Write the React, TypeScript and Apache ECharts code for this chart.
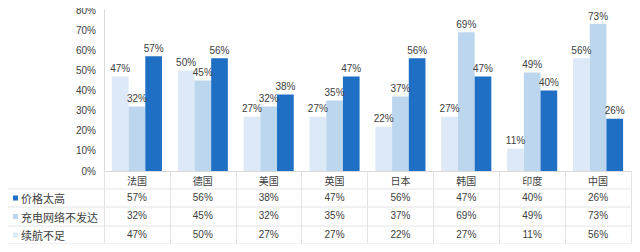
import React, { useEffect, useRef } from "react";
import * as echarts from "echarts";

const categories = ["法国", "德国", "美国", "英国", "日本", "韩国", "印度", "中国"];
const seriesNames = ["续航不足", "充电网络不发达", "价格太高"];
const rangeShort = [47, 50, 27, 27, 22, 27, 11, 56];
const chargingPoor = [32, 45, 32, 35, 37, 69, 49, 73];
const priceHigh = [57, 56, 38, 47, 56, 47, 40, 26];
const yTicks = [0, 10, 20, 30, 40, 50, 60, 70, 80];

const colors = ["#DDE9F6", "#BCD6EE", "#1F6FC5"];
const textColor = "#404040";
const lineColor = "#D9D9D9";
const cjk = "'Noto Sans CJK SC', sans-serif";
const latin = "'Liberation Sans', Arial, sans-serif";

export default function App() {
  const ref = useRef<HTMLDivElement>(null);
  useEffect(() => {
    if (!ref.current) return;
    const chart = echarts.init(ref.current, undefined, { renderer: "svg" });
    const gridLeft = 104;
    const gridRight = 9;
    const gridTop = 10;
    const gridBottom = 81;
    const axisY = 252 - gridBottom;
    const rowLines = [189, 207, 226, 244];
    const tableRows = [
      { name: "价格太高", data: priceHigh, color: colors[2] },
      { name: "充电网络不发达", data: chargingPoor, color: colors[1] },
      { name: "续航不足", data: rangeShort, color: colors[0] },
    ];
    const rowOffsets = [18, 36, 55];
    const valueAxes = tableRows.map((r, i) => ({
      type: "category" as const,
      data: r.data.map((v) => v + "%"),
      position: "bottom" as const,
      offset: rowOffsets[i],
      gridIndex: 0,
      axisLine: { show: false },
      axisTick: { show: false },
      axisLabel: { color: textColor, fontSize: 10, fontFamily: latin, margin: 3 },
    }));
    const graphics: any[] = [];
    rowLines.forEach((y) => {
      graphics.push({
        type: "line",
        shape: { x1: 5, y1: y, x2: 640 - gridRight, y2: y },
        style: { stroke: "#E4E4E4", lineWidth: 1 },
        silent: true,
      });
    });
    graphics.push({
      type: "line",
      shape: { x1: 5, y1: rowLines[0], x2: 5, y2: rowLines[3] },
      style: { stroke: "#E4E4E4", lineWidth: 1 },
    });
    tableRows.forEach((r, i) => {
      const cy = (rowLines[i] + rowLines[i + 1]) / 2;
      graphics.push({
        type: "rect",
        shape: { x: 13, y: cy - 2.5, width: 5, height: 5 },
        style: { fill: r.color },
      });
      graphics.push({
        type: "text",
        x: 21,
        y: cy,
        style: {
          text: r.name,
          fill: textColor,
          font: `11px ${cjk}`,
          verticalAlign: "middle",
          align: "left",
        },
      });
    });
    graphics.push({
      type: "line",
      shape: { x1: 0, y1: 1, x2: 637, y2: 1 },
      style: { stroke: "#5A5A5A", lineWidth: 1.5 },
    });
    graphics.push({
      type: "rect",
      shape: { x: 0, y: 248, width: 640, height: 4 },
      style: { fill: "#6A6A6A" },
    });

    chart.setOption({
      animation: false,
      grid: { left: gridLeft, right: gridRight, top: gridTop, bottom: gridBottom },
      xAxis: [
        {
          type: "category",
          data: categories,
          position: "bottom",
          axisLine: { show: true, lineStyle: { color: lineColor } },
          axisTick: { show: true, length: 244 - axisY, lineStyle: { color: "#E4E4E4" } },
          axisLabel: { color: textColor, fontSize: 10, fontFamily: cjk, margin: 4 },
        },
        ...valueAxes,
      ],
      yAxis: {
        type: "value",
        min: yTicks[0],
        max: yTicks[yTicks.length - 1],
        interval: 10,
        axisLine: { show: true, lineStyle: { color: lineColor } },
        axisTick: { show: false },
        splitLine: { show: false },
        axisLabel: {
          color: textColor,
          fontSize: 10,
          fontFamily: latin,
          margin: 8,
          formatter: "{value}%",
        },
      },
      series: [rangeShort, chargingPoor, priceHigh].map((d, i) => ({
        type: "bar",
        name: seriesNames[i],
        data: d,
        xAxisIndex: 0,
        barGap: "0%",
        barCategoryGap: "24%",
        itemStyle: { color: colors[i] },
        label: {
          show: true,
          position: "top",
          formatter: "{c}%",
          color: textColor,
          fontSize: 10,
          fontFamily: latin,
          distance: 3,
        },
      })),
      graphic: graphics,
    });
    return () => chart.dispose();
  }, []);
  return (
    <div style={{ margin: -8 }}>
      <div ref={ref} style={{ width: 640, height: 252, background: "#fff" }} />
    </div>
  );
}
